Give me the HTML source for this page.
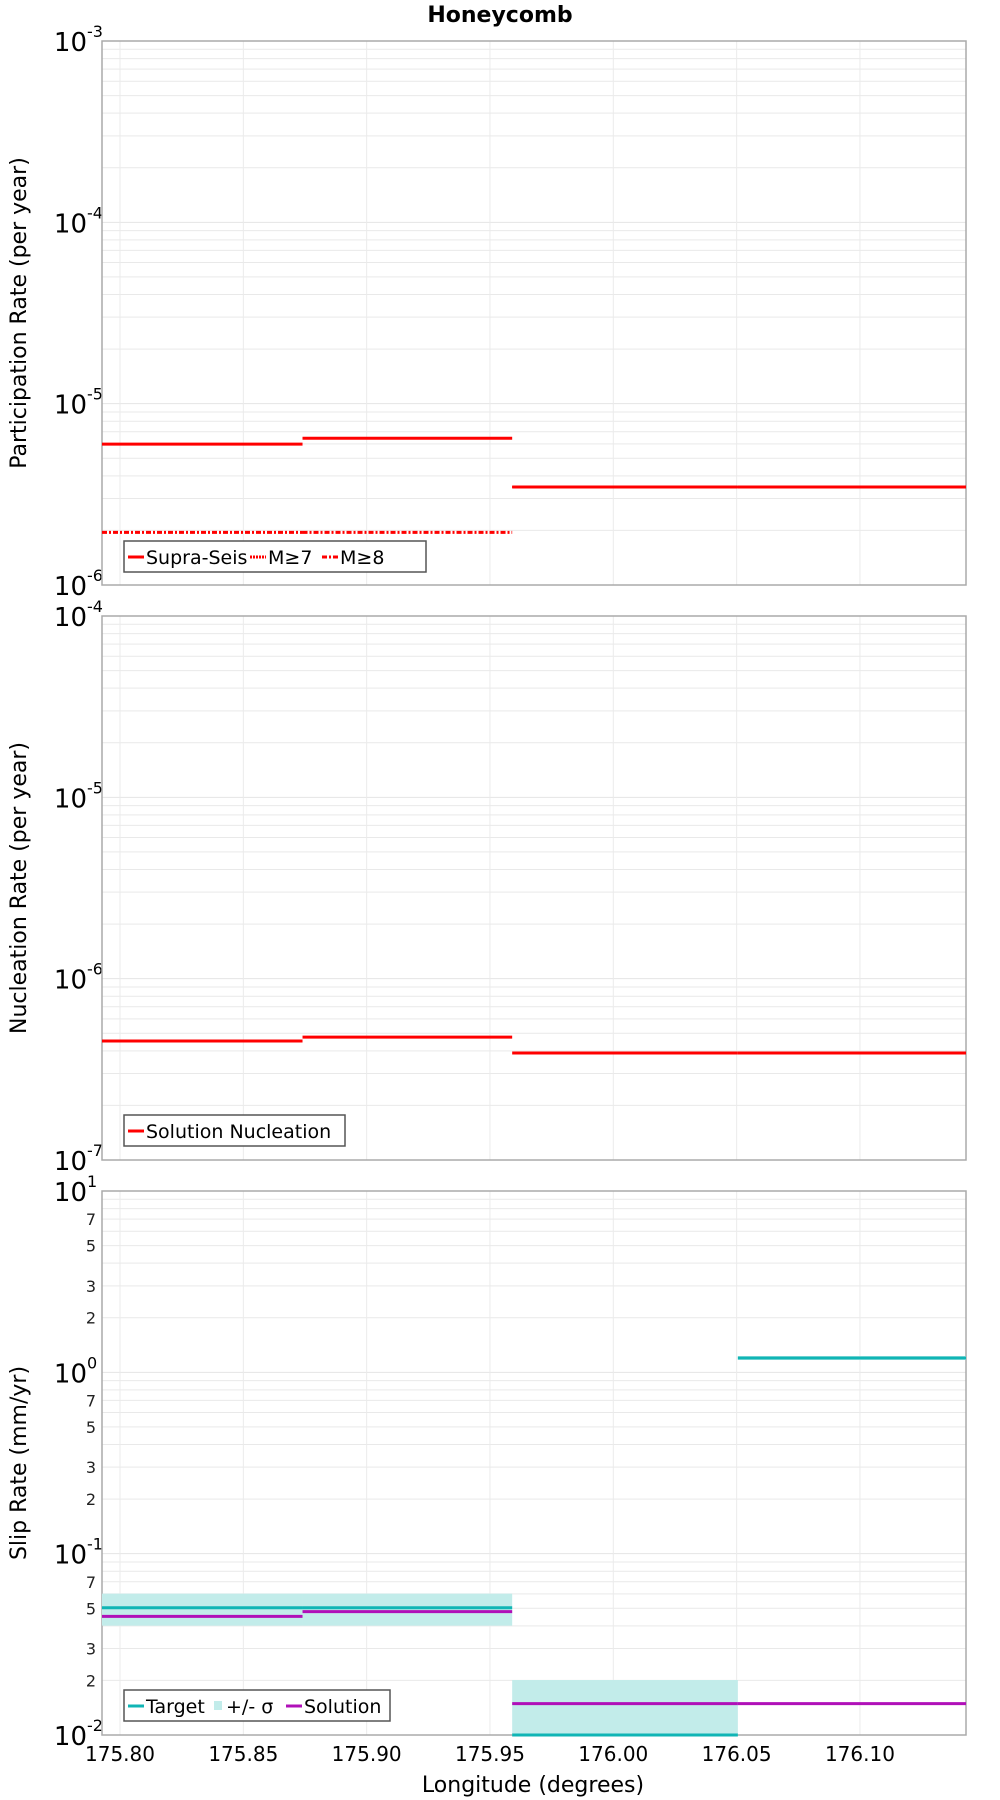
<!DOCTYPE html>
<html><head><meta charset="utf-8"><style>
html,body{margin:0;padding:0;background:#fff;}
svg{display:block;font-family:"DejaVu Sans","Liberation Sans",sans-serif;}
</style></head><body>
<svg id="chart" width="1000" height="1800" viewBox="0 0 1000 1800" xmlns="http://www.w3.org/2000/svg">
<text x="500" y="22" text-anchor="middle" font-size="22" font-weight="bold">Honeycomb</text>
<text x="533" y="1792" text-anchor="middle" font-size="22">Longitude (degrees)</text>
</svg>
<script>
// ---- data ----
const segEdges = [175.7927, 175.874, 175.959, 176.0505, 176.143];
const xTicks = [175.80, 175.85, 175.90, 175.95, 176.00, 176.05, 176.10];
const xTickLabels = ["175.80","175.85","175.90","175.95","176.00","176.05","176.10"];
const supraSeis = [5.98e-6, 6.45e-6, 3.47e-6, 3.47e-6];
const m7 = [5.98e-6, 6.45e-6, 3.47e-6, 3.47e-6];
const m8 = [1.95e-6, 1.95e-6, null, null];
const nucleation = [4.53e-7, 4.76e-7, 3.89e-7, 3.89e-7];
const target = [0.0503, 0.0503, 0.0100, 1.20];
const sigmaLow = [0.0401, 0.0401, 0.0095, 1.17];
const sigmaHigh = [0.0602, 0.0602, 0.0201, 1.23];
const solution = [0.0451, 0.0479, 0.0149, 0.0149];
const panel1Range = [-6, -3];
const panel2Range = [-7, -4];
const panel3Range = [-2, 1];

const NS = "http://www.w3.org/2000/svg";
const svg = document.getElementById('chart');
const L = 102, R = 966, H = 544;
const xMin = segEdges[0], xMax = segEdges[segEdges.length-1];
const xs = v => L + (v - xMin) / (xMax - xMin) * (R - L);
function mk(tag, attrs, parent){ const e=document.createElementNS(NS,tag); for(const k in attrs) e.setAttribute(k,attrs[k]); (parent||svg).appendChild(e); return e; }

function panel(top, range, name, title, minorLabels){
  const g = mk('g',{});
  
  
  const bottom = top + H;
  const ys = v => bottom - (Math.log10(v) - range[0]) / (range[1]-range[0]) * H;
  // grid
  for(let d=range[0]; d<range[1]; d++){
    for(let m=1; m<=9; m++){
      const v = m*Math.pow(10,d); const y = ys(v);
      if(m>1){ const gl=mk('line',{x1:L,x2:R,y1:y,y2:y,stroke:'#e9e9e9','stroke-width':1},g);
          }
      if(minorLabels && [2,3,5,7].includes(m)){
        const t=mk('text',{x:96,y:y+6,'text-anchor':'end','font-size':16,fill:'#222'},g); t.textContent=String(m);
         
      }
    }
  }
  for(let d=range[0]; d<=range[1]; d++){
    const y = ys(Math.pow(10,d));
    const gl=mk('line',{x1:L,x2:R,y1:y,y2:y,stroke:'#e4e4e4','stroke-width':1},g);
     
    const t=mk('text',{x:87,y:y+10,'text-anchor':'end','font-size':26},g); t.textContent='10';
     
    const e=mk('text',{x:87,y:y-4,'text-anchor':'start','font-size':16},g); e.textContent=String(d);
     
  }
  xTicks.forEach(v=>{ const gl=mk('line',{x1:xs(v),x2:xs(v),y1:top,y2:bottom,stroke:'#ebebeb','stroke-width':1},g);
      });
  const fr=mk('rect',{x:L,y:top,width:R-L,height:H,fill:'none',stroke:'#aaa','stroke-width':1.5},g);
   
  const yt=mk('text',{x:0,y:0,'text-anchor':'middle','font-size':22,transform:`translate(26,${top+H/2}) rotate(-90)`},g);
  yt.textContent=title;  
  return {g, ys, top, bottom};
}
function steps(p, vals, color, w, dash, name){
  vals.forEach((v,i)=>{ if(v==null) return;
    const ln=mk('line',{x1:xs(segEdges[i]),x2:xs(segEdges[i+1]),y1:p.ys(v),y2:p.ys(v),stroke:color,'stroke-width':w},p.g);
    if(dash) ln.setAttribute('stroke-dasharray',dash);
      });
}
function legend(p, x, y, w, items){
  const lg=mk('g',{},p.g);  
  mk('rect',{x:x,y:y,width:w,height:31,fill:'#fff',stroke:'#555','stroke-width':1.5},lg);
  let cx=x+4;
  items.forEach(it=>{
    const e=mk('g',{},lg);  
    if(it.box){ mk('rect',{x:cx+2,y:y+11,width:8,height:9,fill:it.color},e); cx+=14; }
    else { const l=mk('line',{x1:cx,x2:cx+16,y1:y+16,y2:y+16,stroke:it.color,'stroke-width':3},e); if(it.dash) l.setAttribute('stroke-dasharray',it.dash); cx+=18; }
    const t=mk('text',{x:cx,y:y+23,'font-size':19},e); t.textContent=it.label; cx+=it.tw;
  });
}
// panel 1
const p1=panel(41,panel1Range,'participation-panel','Participation Rate (per year)',false);
steps(p1,supraSeis,'#f00',3,null,'supra-seis-line');
steps(p1,m7,'#f00',2,'2,1','m7-line');
steps(p1,m8,'#f00',3,'5,2,2,2','m8-line');
legend(p1,124,541,302,[{color:'#f00',label:'Supra-Seis',tw:104},{color:'#f00',label:'M≥7',dash:'2,1',tw:54},{color:'#f00',label:'M≥8',dash:'5,2,2,2',tw:50}]);
// panel 2
const p2=panel(616,panel2Range,'nucleation-panel','Nucleation Rate (per year)',false);
steps(p2,nucleation,'#f00',3,null,'nucleation-line');
legend(p2,124,1115,221,[{color:'#f00',label:'Solution Nucleation',tw:200}]);
// panel 3
const p3=panel(1191,panel3Range,'slip-rate-panel','Slip Rate (mm/yr)',true);
sigmaLow.forEach((lo,i)=>{ const hi=sigmaHigh[i]; const yb=Math.min(p3.ys(lo),p3.bottom);
  const r=mk('rect',{x:xs(segEdges[i]),y:p3.ys(hi),width:xs(segEdges[i+1])-xs(segEdges[i]),height:yb-p3.ys(hi),fill:'#c2ecea'},p3.g);
    });
steps(p3,target,'#10b5b5',3,null,'target-line');
steps(p3,solution,'#b010b8',3,null,'solution-line');
legend(p3,124,1690,266,[{color:'#10b5b5',label:'Target',tw:66},{color:'#c2ecea',label:'+/- σ',box:true,tw:60},{color:'#b010b8',label:'Solution',tw:80}]);
// x tick labels
xTicks.forEach((v,i)=>{ const t=mk('text',{x:xs(v),y:1761,'text-anchor':'middle','font-size':20});
  t.textContent=xTickLabels[i];   });
</script>
</body></html>
